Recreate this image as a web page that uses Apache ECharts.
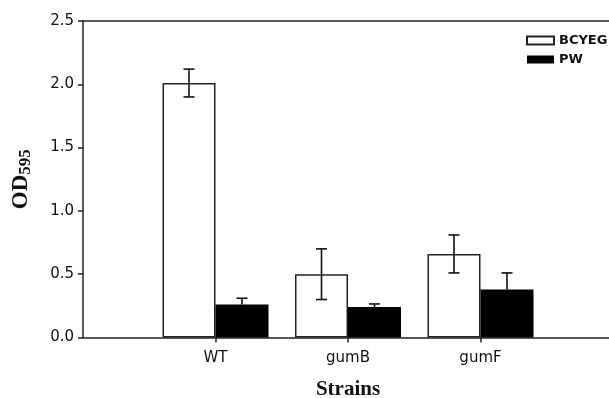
<!DOCTYPE html>
<html>
<head>
<meta charset="utf-8">
<script src="https://cdn.jsdelivr.net/npm/echarts@6/dist/echarts.min.js"></script>
<style>html,body{margin:0;padding:0;background:#fff}#c{width:609px;height:398px}</style>
</head>
<body>
<div id="c"></div>
<script>
const categories = ['', 'WT', 'gumB', 'gumF', ''];
const bcyeg = [null, 2.01, 0.50, 0.66, null];
const bcyegErr = [null, 0.11, 0.20, 0.15, null];
const pw = [null, 0.26, 0.24, 0.38, null];
const pwErr = [null, 0.05, 0.025, 0.13, null];
const yTicks = [0, 0.5, 1.0, 1.5, 2.0, 2.5];

const chart = echarts.init(document.getElementById('c'), null, {renderer: 'canvas'});

function errData(vals, errs) {
  const out = [];
  vals.forEach((v, i) => { if (v != null) out.push([i, v, errs[i]]); });
  return out;
}

function errRender(side, upperOnly) {
  return function (params, api) {
    const i = api.value(0), v = api.value(1), e = api.value(2);
    const band = api.size([1, 0])[0];
    const off = side * band * 0.2;
    const top = api.coord([i, v + e]);
    const bot = api.coord([i, upperOnly ? v : v - e]);
    const x = top[0] + off;
    const cap = 5.5;
    const st = {stroke: '#111', lineWidth: 1.6};
    const children = [
      {type: 'line', shape: {x1: x, y1: top[1], x2: x, y2: bot[1]}, style: st},
      {type: 'line', shape: {x1: x - cap, y1: top[1], x2: x + cap, y2: top[1]}, style: st}
    ];
    if (!upperOnly) children.push({type: 'line', shape: {x1: x - cap, y1: bot[1], x2: x + cap, y2: bot[1]}, style: st});
    return {type: 'group', children: children};
  };
}

const lineCol = '#222';
chart.setOption({
  animation: false,
  backgroundColor: '#fff',
  grid: {left: 83, right: -4, top: 21, bottom: 60.5, outerBoundsMode: 'none', containLabel: false},
  legend: {
    orient: 'vertical', left: 521, top: 29,
    itemWidth: 27, itemHeight: 8, itemGap: 6,
    icon: 'rect',
    textStyle: {fontFamily: 'DejaVu Sans', fontWeight: 'bold', fontSize: 13, color: '#111'},
    data: ['BCYEG', 'PW']
  },
  xAxis: [{
    type: 'category', data: categories, boundaryGap: false,
    axisLine: {lineStyle: {color: lineCol, width: 1.5}},
    axisTick: {show: true, length: 5, lineStyle: {color: lineCol, width: 1.5},
      interval: function (idx) { return idx >= 1 && idx <= 3; }},
    axisLabel: {color: '#111', fontFamily: 'DejaVu Sans', fontSize: 15, margin: 13, interval: 0},
    name: 'Strains', nameLocation: 'middle', nameGap: 42,
    nameTextStyle: {fontFamily: 'Liberation Serif', fontWeight: 'bold', fontSize: 21, color: '#111'},
    splitLine: {show: false}
  }, {
    type: 'category', data: categories, boundaryGap: false, position: 'top',
    axisLine: {lineStyle: {color: lineCol, width: 1.5}},
    axisTick: {show: false}, axisLabel: {show: false}, splitLine: {show: false}
  }],
  yAxis: {
    type: 'value', min: 0, max: 2.5, interval: 0.5,
    axisLine: {show: true, lineStyle: {color: lineCol, width: 1.5}},
    axisTick: {show: true, length: 5, lineStyle: {color: lineCol, width: 1.5}},
    axisLabel: {color: '#111', fontFamily: 'DejaVu Sans', fontSize: 15, margin: 9,
      formatter: function (v) { return v.toFixed(1); }},
    splitLine: {show: false},
    name: '{a|OD}{b|595}', nameLocation: 'middle', nameRotate: 90, nameGap: 49,
    nameTextStyle: {
      rich: {
        a: {fontFamily: 'Liberation Serif', fontWeight: 'bold', fontSize: 23, color: '#111', lineHeight: 26, verticalAlign: 'middle'},
        b: {fontFamily: 'Liberation Serif', fontWeight: 'bold', fontSize: 17, color: '#111', lineHeight: 17, verticalAlign: 'bottom'}
      }
    }
  },
  series: [
    {name: 'BCYEG', type: 'bar', data: bcyeg, barWidth: '40%', barGap: '0%',
      itemStyle: {color: '#fff', borderColor: '#222', borderWidth: 1.5}},
    {name: 'PW', type: 'bar', data: pw, barWidth: '40%', barGap: '0%',
      itemStyle: {color: '#000', borderColor: '#000', borderWidth: 0}},
    {name: 'errB', type: 'custom', data: errData(bcyeg, bcyegErr), renderItem: errRender(-1, false),
      encode: {x: 0, y: 1}, z: 5},
    {name: 'errP', type: 'custom', data: errData(pw, pwErr), renderItem: errRender(1, true),
      encode: {x: 0, y: 1}, z: 5}
  ]
});
</script>
</body>
</html>
